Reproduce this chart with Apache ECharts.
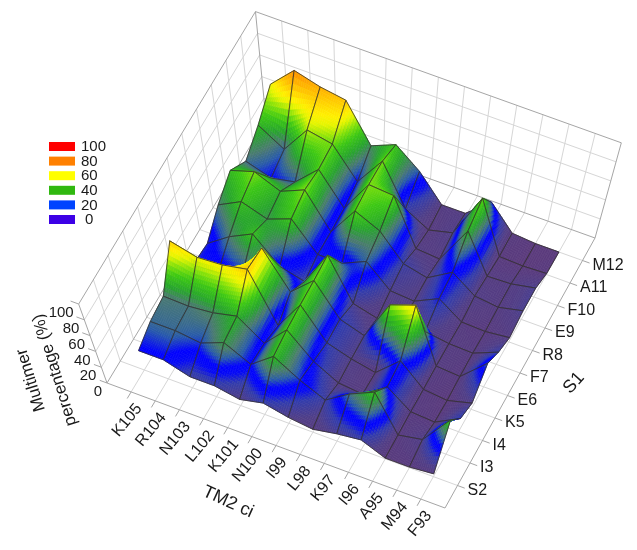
<!DOCTYPE html>
<html><head><meta charset="utf-8">
<style>html,body{margin:0;padding:0;background:#fff}#c{width:637px;height:550px;filter:blur(0.35px)}</style>
<script src="https://cdn.jsdelivr.net/npm/echarts@6/dist/echarts.min.js"></script>
</head><body><div id="c"></div>
<script>
// --- data ---
const tm2Labels = ['K105','R104','N103','L102','K101','N100','I99','L98','K97','I96','A95','M94','F93'];
const s1Labels = ['S2','I3','I4','K5','E6','F7','R8','E9','F10','A11','M12'];
const zTicks = [0,20,40,60,80,100];
const legendLabels = ['100','80','60','40','20','0'];
const legendColors = ['#ff0000','#ff8000','#ffff00','#30b810','#0044ff','#3c00e6'];
const rowS2  = [24,24,14,14, 8,15, 8, 4,10,14, 1, 1, 4];
const rowI3  = [32,32,28,40,24,46,27,13,33,48, 2, 8,48];
const rowI4  = [35,34,37,44,22,50,22, 6, 3,24, 3, 1,18];
const rowK5  = [72,64,66,72,16,52,17, 8, 2,28, 3, 0, 8];
const rowE6  = [20,20,25,69,29,53,18, 9,57,68, 4, 2,30];
const rowF7  = [18,35,48,22,15,55,10, 3, 5, 8, 4, 3,15];
const rowR8  = [35,48,39,49,20,20,32, 9, 7,20, 3, 2, 5];
const rowE9  = [47,55,44,55,20,52,40,14, 8,24, 7, 4,10];
const rowF10 = [33,25,30,52,21,55,53, 6, 4,44, 4, 5,10];
const rowA11 = [46,31,59,54,25,55,15, 2, 8,54, 1, 0, 1];
const rowM12 = [63,85,78,74,38,48,30, 5, 5,25, 2, 0, 0];
const rows = [rowS2,rowI3,rowI4,rowK5,rowE6,rowF7,rowR8,rowE9,rowF10,rowA11,rowM12];

// --- colour ramp of the surface ---
const ramp = [[0,[90,58,124]],[8,[80,62,135]],[16,[50,60,172]],[21,[6,10,245]],[25,[0,0,255]],[30,[40,90,170]],
 [35,[74,122,112]],[42,[40,165,45]],[50,[60,200,20]],[56,[130,225,10]],[62,[230,245,0]],[66,[255,240,0]],
 [75,[255,190,0]],[88,[255,128,0]],[100,[255,0,0]]];
function rampColor(z){
  z=Math.max(0,Math.min(100,z));
  for(let k=1;k<ramp.length;k++){ if(z<=ramp[k][0]){
    const a=ramp[k-1],b=ramp[k],t=(z-a[0])/(b[0]-a[0]);
    return 'rgb('+[0,1,2].map(c=>Math.round(a[1][c]+(b[1][c]-a[1][c])*t)).join(',')+')';
  }}
  return 'rgb(255,0,0)';
}

// --- view of the box ---
const W=637,H=550,UMAX=14,VMAX=12;
const A=[107,383],B=[445,508],C=[595,238],D=[266,120],VP=[360,1088],ZK=0.00112;
// api.coord gives a pixel in the flat hidden grid; tilt it onto the floor and lift it by z
function project(p,z){
  const u=p[0]/W, v=1-p[1]/H;
  const x=(1-u)*(1-v)*A[0]+u*(1-v)*B[0]+u*v*C[0]+(1-u)*v*D[0];
  const y=(1-u)*(1-v)*A[1]+u*(1-v)*B[1]+u*v*C[1]+(1-u)*v*D[1];
  const s=1+ZK*z;
  return [VP[0]+(x-VP[0])*s, VP[1]+(y-VP[1])*s];
}

// --- box lines: [u0,v0,z0,u1,v1,z1,isFrame] ---
const boxLines=[];
for(let u=1;u<=13;u++){ boxLines.push([u,0,0,u,12,0,0]); boxLines.push([u,12,0,u,12,100,0]); }
for(let v=1;v<=11;v++){ boxLines.push([0,v,0,14,v,0,0]); boxLines.push([0,v,0,0,v,100,0]); }
for(const z of zTicks.slice(1,5)){ boxLines.push([0,0,z,0,12,z,0]); boxLines.push([0,12,z,14,12,z,0]); }
boxLines.push([0,0,0,14,0,0,1],[14,0,0,14,12,0,1],[0,0,0,0,12,0,1],[0,12,0,14,12,0,1],
  [0,0,0,0,0,100,1],[0,12,0,0,12,100,1],[14,12,0,14,12,100,1],
  [0,0,100,0,12,100,1],[0,12,100,14,12,100,1]);
// tick marks
for(let u=1;u<=13;u++) boxLines.push([u,0,0,u,-0.3,0,1]);
for(let v=1;v<=11;v++) boxLines.push([14,v,0,14.3,v,0,1]);
for(const z of zTicks) boxLines.push([0,0,z,-0.3,0,z,1]);

// --- cells, far to near ---
const cells=[];
for(let j=rows.length-2;j>=0;j--) for(let i=0;i<12;i++)
  cells.push([i+1,j+1,rows[j][i],rows[j][i+1],rows[j+1][i+1],rows[j+1][i]]);

const N=12;
function renderCell(params,api){
  const u=api.value(0),v=api.value(1);
  const z00=api.value(2),z10=api.value(3),z11=api.value(4),z01=api.value(5);
  const pt=(a,b)=>{
    const z=(1-a)*(1-b)*z00+a*(1-b)*z10+a*b*z11+(1-a)*b*z01;
    return {p:project(api.coord([u+a,v+b]),z),z};
  };
  const children=[];
  for(let b=N-1;b>=0;b--) for(let a=0;a<N;a++){
    const q=[pt(a/N,b/N),pt((a+1)/N,b/N),pt((a+1)/N,(b+1)/N),pt(a/N,(b+1)/N)];
    const col=rampColor((q[0].z+q[1].z+q[2].z+q[3].z)/4);
    children.push({type:'polygon',shape:{points:q.map(o=>o.p)},style:{fill:col,stroke:col,lineWidth:0.6},silent:true});
  }
  const outline=[pt(0,0),pt(1,0),pt(1,1),pt(0,1),pt(0,0)].map(o=>o.p);
  children.push({type:'polyline',shape:{points:outline},style:{fill:null,stroke:'#33302f',lineWidth:0.8},silent:true});
  return {type:'group',children};
}
function renderLine(params,api){
  const a=project(api.coord([api.value(0),api.value(1)]),api.value(2));
  const b=project(api.coord([api.value(3),api.value(4)]),api.value(5));
  const fr=api.value(6);
  return {type:'line',shape:{x1:a[0],y1:a[1],x2:b[0],y2:b[1]},style:{stroke:fr?'#a6a6a6':'#d6d6d6',lineWidth:1},silent:true};
}
const font15='16px "Liberation Sans", Arial, sans-serif';
const font14='15px "Liberation Sans", Arial, sans-serif';
function textEl(p,text,rot,align,font){
  return {type:'text',x:p[0],y:p[1],rotation:rot,silent:true,
    style:{text,x:0,y:0,align,verticalAlign:'middle',font,fill:'#1a1a1a'}};
}
const graphics=[];
legendLabels.forEach((t,k)=>{
  const y=142+k*14.6;
  graphics.push({type:'rect',shape:{x:49,y:y,width:26,height:9},style:{fill:legendColors[k]},silent:true});
  graphics.push({type:'text',x:t==='0'?85:81,y:y+5,silent:true,style:{text:t,x:0,y:0,align:'left',verticalAlign:'middle',font:font14,fill:'#1a1a1a'}});
});
const titles=[['Multimer',31,380,1.87,'17px'],['percentage (%)',55,370,1.87,'17px'],['TM2 ci',228,502,-0.43,'18px'],['S1',574,383,0.84,'18px']];
titles.forEach(t=>graphics.push({type:'text',x:t[1],y:t[2],rotation:t[3],silent:true,
  style:{text:t[0],x:0,y:0,align:'center',verticalAlign:'middle',font:t[4]+' "Liberation Sans", Arial, sans-serif',fill:'#1a1a1a'}}));

const chart=echarts.init(document.getElementById('c'),null,{renderer:'canvas',width:W,height:H});
chart.setOption({
  animation:false,backgroundColor:'#fff',
  grid:{left:0,top:0,right:0,bottom:0,containLabel:false},
  xAxis:{type:'value',min:0,max:UMAX,show:false},
  yAxis:{type:'value',min:0,max:VMAX,show:false},
  graphic:graphics,
  series:[
   {type:'custom',coordinateSystem:'cartesian2d',clip:false,silent:true,progressive:0,renderItem:renderLine,data:boxLines,z:1},
   {type:'custom',coordinateSystem:'cartesian2d',clip:false,silent:true,progressive:0,renderItem:renderCell,data:cells,z:2},
   {type:'custom',coordinateSystem:'cartesian2d',clip:false,silent:true,progressive:0,z:3,
    data:tm2Labels.map((t,i)=>[i+1,0]),
    renderItem:(p,api)=>{const q=project(api.coord([api.value(0),api.value(1)]),0);
      return textEl([q[0]+8,q[1]+14],tm2Labels[p.dataIndex],0.88,'right',font15);}},
   {type:'custom',coordinateSystem:'cartesian2d',clip:false,silent:true,progressive:0,z:3,
    data:s1Labels.map((t,i)=>[14,i+1]),
    renderItem:(p,api)=>{const q=project(api.coord([api.value(0),api.value(1)]),0);
      return textEl([q[0]+10,q[1]+5],s1Labels[p.dataIndex],0,'left',font15);}},
   {type:'custom',coordinateSystem:'cartesian2d',clip:false,silent:true,progressive:0,z:3,
    data:zTicks.map(z=>[0,0,z]),
    renderItem:(p,api)=>{const q=project(api.coord([api.value(0),api.value(1)]),api.value(2));
      return textEl([q[0]-5,q[1]+9],String(api.value(2)),0,'right',font14);}}
  ]
});
</script></body></html>
